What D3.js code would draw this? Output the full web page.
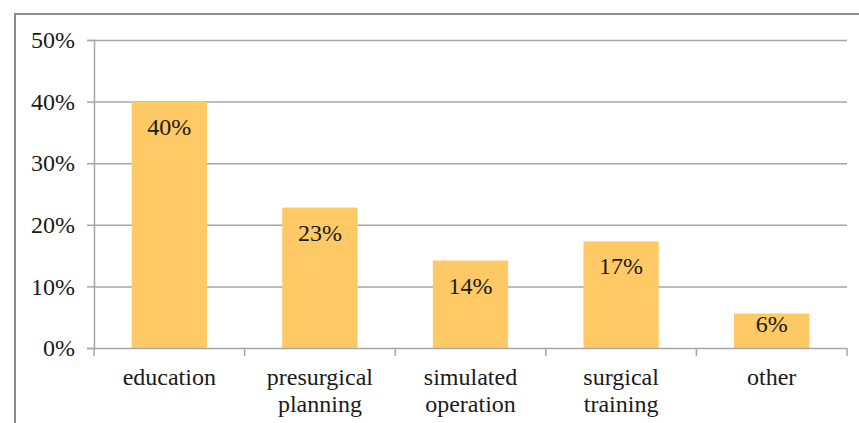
<!DOCTYPE html>
<html><head><meta charset="utf-8">
<script src="https://cdn.jsdelivr.net/npm/d3@7"></script>
<style>
html,body{margin:0;padding:0;background:#fff;}
svg{display:block;}
svg text{font-family:"Liberation Serif","Times New Roman","DejaVu Serif",serif !important;}
</style></head>
<body>
<svg id="chart" width="859" height="423"></svg>
<script>
const categories = [["education"], ["presurgical", "planning"], ["simulated", "operation"], ["surgical", "training"], ["other"]];
const values = [40, 22.8, 14.2, 17.3, 5.6];
const labels = ["40%", "23%", "14%", "17%", "6%"];
const yTicks = [0, 10, 20, 30, 40, 50];

(function () {
const svg = d3.select("#chart");
const pLeft = 94, pRight = 847, pTop = 40, pBottom = 348;
const gridColor = "#a6a6a6";

// frame
svg.append("rect").attr("x", 15).attr("y", 14).attr("width", 900).attr("height", 500)
  .attr("fill", "none").attr("stroke", "#8c8c8c").attr("stroke-width", 2);

const keys = categories.map(c => c.join(" "));
const x = d3.scaleBand().domain(keys).range([pLeft, pRight]).paddingInner(0.5).paddingOuter(0.25);
const xEdges = d3.scaleBand().domain(keys).range([pLeft, pRight]).padding(0);
const y = d3.scaleLinear().domain([0, 50]).range([pBottom, pTop]);

// gridlines
svg.append("g").selectAll("line").data(yTicks.filter(t => t > 0)).join("line")
  .attr("x1", pLeft).attr("x2", pRight)
  .attr("y1", d => y(d) + 0.5).attr("y2", d => y(d) + 0.5)
  .attr("stroke", gridColor).attr("stroke-width", 1.5);

// bars
svg.append("g").selectAll("rect").data(values).join("rect")
  .attr("x", (d, i) => x(keys[i])).attr("width", x.bandwidth())
  .attr("y", d => y(d)).attr("height", d => pBottom - y(d))
  .attr("fill", "#ffc965");

// data labels (inside end; shorter bars pull the label up)
svg.append("g").selectAll("text").data(values).join("text")
  .attr("x", (d, i) => x(keys[i]) + x.bandwidth() / 2)
  .attr("y", d => y(d) + Math.min(33, (pBottom - y(d)) / 2 + 1))
  .attr("text-anchor", "middle")
  .attr("font-size", 24).attr("fill", "#1a1a1a")
  .text((d, i) => labels[i]);

// y axis
const yAxis = svg.append("g").attr("transform", `translate(${pLeft},0)`)
  .call(d3.axisLeft(y).tickValues(yTicks).tickSize(7).tickPadding(12).tickFormat(d => d + "%"));
yAxis.attr("font-family", null);
yAxis.select(".domain").attr("stroke", gridColor).attr("stroke-width", 1.5);
yAxis.selectAll(".tick line").attr("stroke", gridColor).attr("stroke-width", 1.5);
yAxis.selectAll(".tick text").attr("font-size", 24).attr("fill", "#1a1a1a");

// x axis
const xAxisG = svg.append("g").attr("transform", `translate(0,${pBottom})`);
xAxisG.append("line").attr("x1", pLeft).attr("x2", pRight).attr("y1", 0.5).attr("y2", 0.5)
  .attr("stroke", gridColor).attr("stroke-width", 1.5);
const edges = keys.map(k => xEdges(k)).concat([pRight]);
xAxisG.selectAll("line.tk").data(edges).join("line").attr("class", "tk")
  .attr("x1", d => d).attr("x2", d => d).attr("y1", 0).attr("y2", 8)
  .attr("stroke", gridColor).attr("stroke-width", 1.5);
const catText = xAxisG.selectAll("text").data(categories).join("text")
  .attr("x", (d, i) => xEdges(keys[i]) + xEdges.bandwidth() / 2)
  .attr("y", 37)
  .attr("text-anchor", "middle")
  .attr("font-size", 24).attr("fill", "#1a1a1a");
catText.selectAll("tspan").data(d => d).join("tspan")
  .attr("x", function() { return this.parentNode.getAttribute("x"); })
  .attr("dy", (d, i) => i === 0 ? 0 : 27)
  .text(d => d);
})();
</script>
</body></html>
